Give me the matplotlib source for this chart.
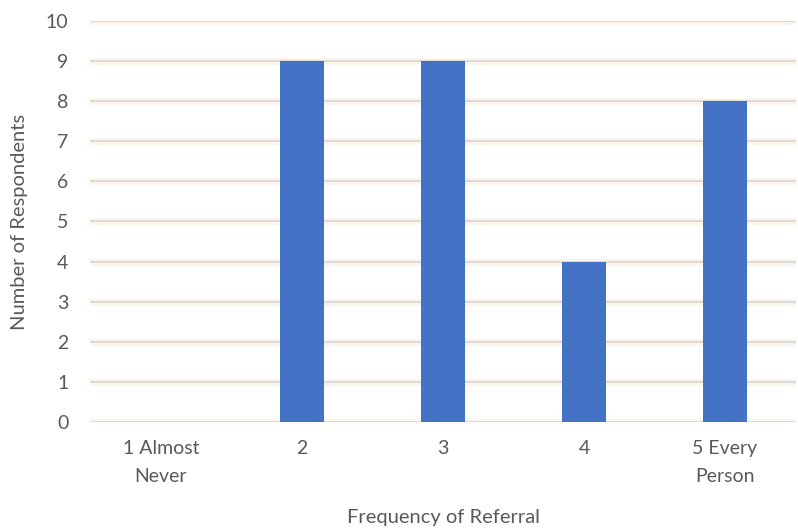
import numpy as np
import matplotlib.pyplot as plt

categories = ["1 Almost\nNever", "2", "3", "4", "5 Every\nPerson"]
respondents = [0, 9, 9, 4, 8]
y_ticks = list(range(0, 11))

plt.rcParams['font.family'] = ['Lato', 'DejaVu Sans']

fig = plt.figure(figsize=(7.98, 5.31), dpi=100)
ax = fig.add_axes([0.1134, 0.2053, 0.8835, 0.7552])

x = np.arange(len(categories))

# gridlines with a soft warm glow, like the spreadsheet export
for t in y_ticks:
    ax.axhline(t, color='#fdf4ec', lw=5, zorder=0)
    ax.axhline(t, color='#d9d9d9', lw=1.3, zorder=1)

ax.bar(x, respondents, width=0.31, color='#4472c4', zorder=2)

ax.set_xlim(-0.5, len(categories) - 0.5)
ax.set_ylim(0, 10)
ax.set_yticks(y_ticks)
ax.set_xticks(x)
ax.set_xticklabels(categories, linespacing=1.8)

ax.tick_params(axis='both', length=0, labelsize=14, labelcolor='#595959')
ax.tick_params(axis='x', pad=13)
ax.tick_params(axis='y', pad=16)
for s in ax.spines.values():
    s.set_visible(False)

ax.set_xlabel("Frequency of Referral", fontsize=14.5, color='#595959', labelpad=17)
ax.set_ylabel("Number of Respondents", fontsize=14.5, color='#595959', labelpad=13)

fig.savefig("out.png", dpi=100)
